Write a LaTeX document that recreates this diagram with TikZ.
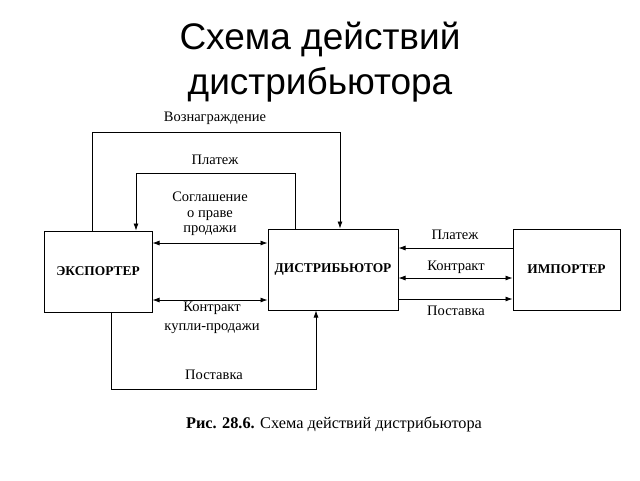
\documentclass[tikz,border=0pt]{standalone}
\usepackage{fontspec}
\setmainfont{Liberation Serif}
\newfontfamily\titlefont{Liberation Sans}
\usetikzlibrary{arrows.meta}
\begin{document}
\begin{tikzpicture}[x=1pt,y=-1pt,
  box/.style={draw,line width=1pt,inner sep=0pt,font=\bfseries\fontsize{13.4}{15}\selectfont},
  lbl/.style={inner sep=1pt,font=\fontsize{14.5}{16}\selectfont,align=center},
  conn/.style={line width=0.8pt},
  arr/.style={conn,-{Latex[length=7pt,width=5pt]}},
  arrb/.style={conn,{Latex[length=7pt,width=5pt]}-{Latex[length=7pt,width=5pt]}}]
\useasboundingbox (0,0) rectangle (640,480);
\node[font=\titlefont\fontsize{37}{45}\selectfont,align=center] (title) at (320,62) {Схема действий\\дистрибьютора};
\node[box,minimum width=108pt,minimum height=81pt] (exp) at (98,271.5) {ЭКСПОРТЕР};
\node[box,minimum width=130pt,minimum height=81pt] (dist) at (333,269.5) {ДИСТРИБЬЮТОР};
\node[box,minimum width=107pt,minimum height=81pt] (imp) at (566.5,269.5) {ИМПОРТЕР};
% reward loop
\coordinate (vL) at (92,132);
\coordinate (vR) at (340,132);
\draw[arr] (exp.north -| vL) -- (vL) -- (vR) -- (dist.north -| vR);
\node[lbl] (lv) at (215,118) {Вознаграждение};
% payment loop
\coordinate (pL) at (136,173);
\coordinate (pR) at (295,173);
\draw[arr] (dist.north -| pR) -- (pR) -- (pL) -- (exp.north -| pL);
\node[lbl] (lp) at (215,160) {Платеж};
% agreement
\coordinate (a1) at (0,243);
\draw[arrb] (exp.east |- a1) -- (dist.west |- a1);
\node[lbl,font=\fontsize{14.5}{15.5}\selectfont] (ls) at (210,214) {Соглашение\\о праве\\продажи};
% contract
\coordinate (a2) at (0,300);
\draw[arrb] (exp.east |- a2) -- (dist.west |- a2);
\node[lbl,font=\fontsize{14.5}{19}\selectfont] (lk) at (212,318) {Контракт\\купли-продажи};
% delivery loop
\coordinate (dL) at (111,389);
\coordinate (dR) at (316,389);
\draw[arr] (exp.south -| dL) -- (dL) -- (dR) -- (dist.south -| dR);
\node[lbl] (ld) at (214,375) {Поставка};
% right side
\coordinate (r1) at (0,248);
\coordinate (r2) at (0,278);
\coordinate (r3) at (0,299);
\draw[arr] (imp.west |- r1) -- (dist.east |- r1);
\draw[arrb] (dist.east |- r2) -- (imp.west |- r2);
\draw[arr] (dist.east |- r3) -- (imp.west |- r3);
\node[lbl] (rp) at (455,235) {Платеж};
\node[lbl] (rk) at (456,267) {Контракт};
\node[lbl] (rd) at (456,311) {Поставка};
% caption
\node[font=\fontsize{16.3}{18}\selectfont] (cap) at (334,424) {\textbf{Рис. 28.6.} Схема действий дистрибьютора};
\end{tikzpicture}
\end{document}
